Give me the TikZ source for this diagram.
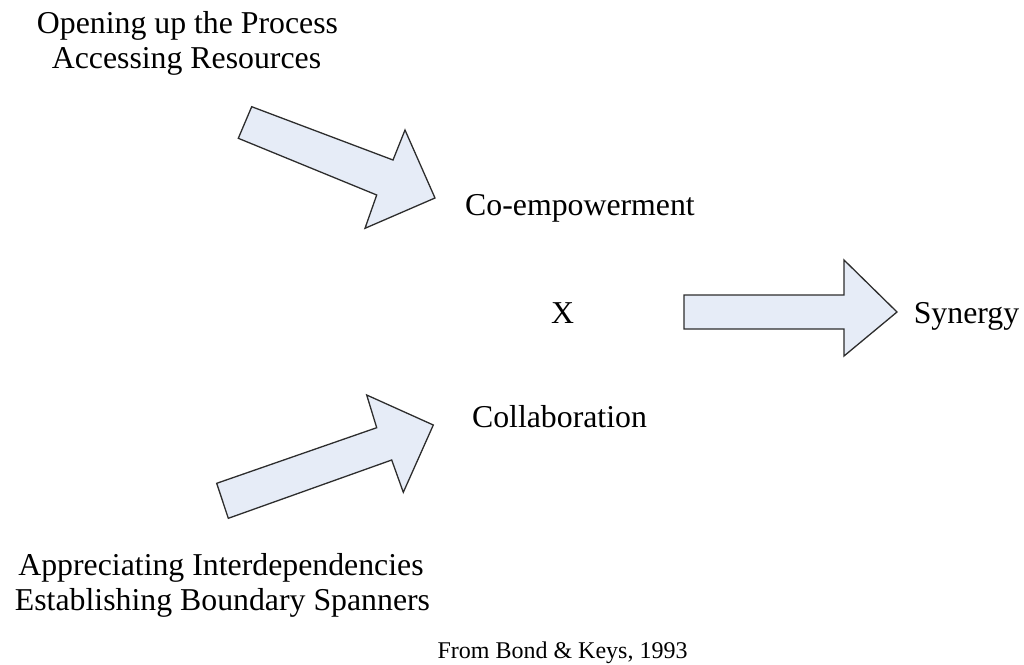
\documentclass[tikz,border=0pt]{standalone}
\usepackage{fontspec}
\setmainfont{Liberation Serif}
\definecolor{arrowfill}{RGB}{230,236,247}
\definecolor{arrowline}{RGB}{45,45,45}
\tikzset{
  bigarrow/.style={draw=arrowline, fill=arrowfill, line width=1.3pt, line join=miter},
  label/.style={inner sep=0pt, anchor=base, font=\fontsize{31.8}{38}\selectfont},
  source/.style={inner sep=0pt, anchor=base, font=\fontsize{24}{29}\selectfont}
}
\begin{document}
\begin{tikzpicture}[x=1pt, y=-1pt]
  \useasboundingbox (0,0) rectangle (1024,664);

  % block arrows
  \draw[bigarrow] (251.7,106.7) -- (393,160) -- (405,130) -- (435,198)
    -- (365,228.3) -- (376.7,195) -- (238.3,138.3) -- cycle;
  \draw[bigarrow] (216.7,483.3) -- (376.7,427.7) -- (366.7,395) -- (433.3,425)
    -- (403.3,492.3) -- (391.7,460) -- (228.3,518.3) -- cycle;
  \draw[bigarrow] (684,295) -- (844,295) -- (844,260) -- (897,312)
    -- (844,356) -- (844,329) -- (684,329) -- cycle;

  % labels
  \node[label] (open) at (187.5,33) {Opening up the Process};
  \node[label] (access) at (186.5,68) {Accessing Resources};
  \node[label] (coemp) at (580,215) {Co-empowerment};
  \node[label] (times) at (562.5,323) {X};
  \node[label] (collab) at (559.5,427) {Collaboration};
  \node[label] (syn) at (966.5,323) {Synergy};
  \node[label] (appr) at (221,575) {Appreciating Interdependencies};
  \node[label] (estab) at (222.5,610) {Establishing Boundary Spanners};
  \node[source] (src) at (562.5,658) {From Bond \& Keys, 1993};
\end{tikzpicture}
\end{document}
